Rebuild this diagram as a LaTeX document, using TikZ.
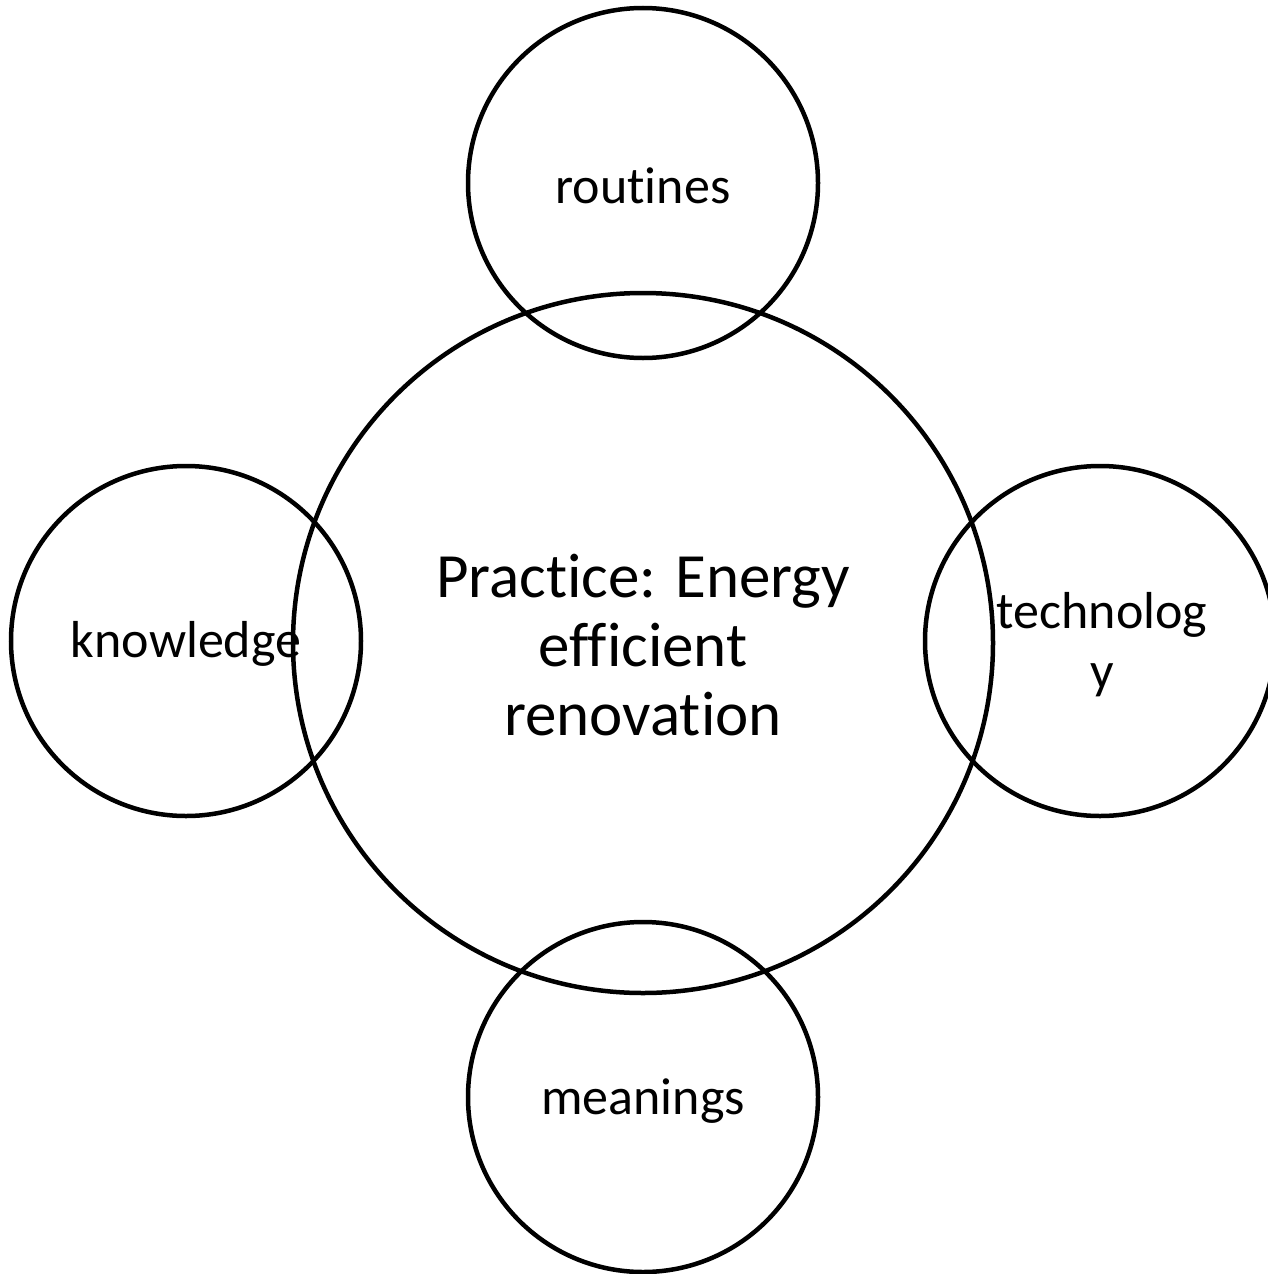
\documentclass[tikz,border=0pt]{standalone}
\usepackage{fontspec}
\setmainfont{Carlito}[Ligatures={NoCommon}]
\begin{document}
\begin{tikzpicture}[x=1pt,y=-1pt,
  ring/.style={draw=black,line width=4.5pt,circle,minimum size=#1,inner sep=0pt},
  smalltxt/.style={font=\fontsize{52}{60}\selectfont,align=center},
  bigtxt/.style={font=\fontsize{63}{69}\selectfont,align=center}]
\useasboundingbox (0,0) rectangle (1268,1274);
\clip (0,0) rectangle (1268,1274);
% central practice circle
\node[ring=700pt] (practice) at (643,643) {};
\node[bigtxt] (practicetxt) at (643,645) {Practice: Energy\\efficient\\renovation};
% surrounding element circles
\node[ring=350pt] (routines) at (643,183) {};
\node[smalltxt] (routinestxt) at (643,186) {routines};
\node[ring=350pt] (meanings) at (643,1097) {};
\node[smalltxt] (meaningstxt) at (643,1101) {meanings};
\node[ring=350pt] (knowledge) at (186,641) {};
\node[smalltxt] (knowledgetxt) at (186,644) {knowledge};
\node[ring=350pt] (technology) at (1100,641) {};
\node[smalltxt] (technologytxt) at (1102,645) {technolog\\y};
\end{tikzpicture}
\end{document}
